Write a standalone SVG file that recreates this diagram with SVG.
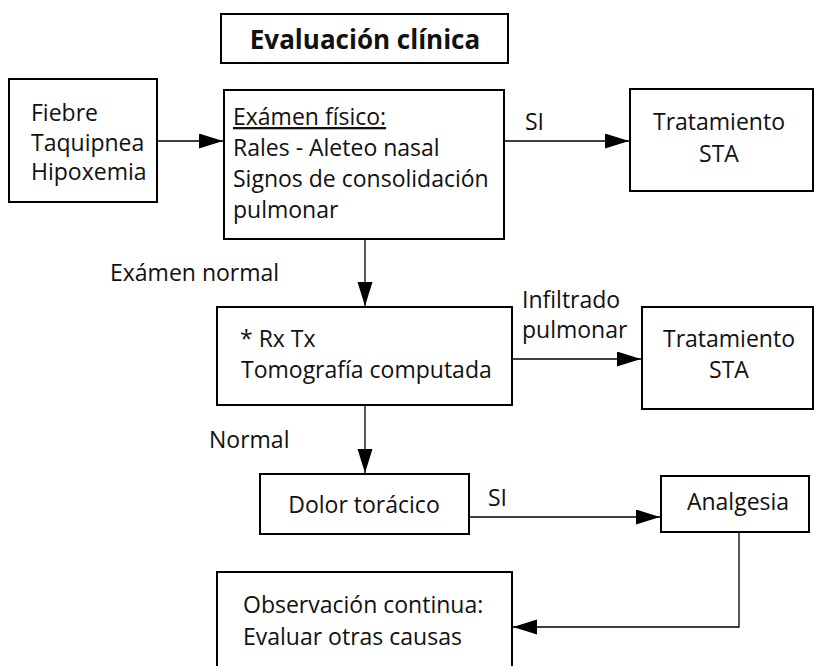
<svg xmlns="http://www.w3.org/2000/svg" width="816" height="666" viewBox="0 0 816 666">
<defs>
<style>
.box{fill:#fff;stroke:#000;stroke-width:2}
.t{font-family:"Open Sans","Noto Sans",sans-serif;font-size:23px;fill:#111}
.c{text-anchor:middle}
.title{font-family:"Open Sans","Noto Sans",sans-serif;font-size:26px;font-weight:bold;fill:#111;text-anchor:middle}
.ln{fill:none;stroke:#000;stroke-width:1.3}
</style>
<marker id="ah" markerUnits="userSpaceOnUse" markerWidth="25" markerHeight="16" refX="24" refY="7.5" orient="auto">
<path d="M0,0 L24,7.5 L0,15 z" fill="#000"/>
</marker>
</defs>
<rect width="816" height="666" fill="#fff"/>
<g id="connectors">
<path class="ln" d="M157,141 H223" marker-end="url(#ah)"/>
<path class="ln" d="M504,141 H629" marker-end="url(#ah)"/>
<path class="ln" d="M365,239 V306" marker-end="url(#ah)"/>
<path class="ln" d="M512,359 H641" marker-end="url(#ah)"/>
<path class="ln" d="M365,405 V473" marker-end="url(#ah)"/>
<path class="ln" d="M469,517 H660" marker-end="url(#ah)"/>
<path class="ln" d="M739,532 V627 H513" marker-end="url(#ah)"/>
<text class="t" x="525" y="130">SI</text>
<text class="t" x="522" y="308">Infiltrado</text>
<text class="t" x="522" y="338">pulmonar</text>
<text class="t" x="110" y="281">Exámen normal</text>
<text class="t" x="209" y="448">Normal</text>
<text class="t" x="488" y="506">SI</text>
</g>
<g id="title">
<rect class="box" x="221" y="14" width="287" height="49"/>
<text class="title" x="365" y="49">Evaluación clínica</text>
</g>
<g id="sintomas">
<rect class="box" x="9" y="79" width="148" height="123"/>
<text class="t" x="31" y="121">Fiebre</text>
<text class="t" x="31" y="151">Taquipnea</text>
<text class="t" x="31" y="180">Hipoxemia</text>
</g>
<g id="examen">
<rect class="box" x="224" y="90" width="280" height="149"/>
<text class="t" x="233" y="125" text-decoration="underline">Exámen físico:</text>
<text class="t" x="233" y="156">Rales - Aleteo nasal</text>
<text class="t" x="233" y="187">Signos de consolidación</text>
<text class="t" x="233" y="218">pulmonar</text>
</g>
<g id="tratamiento1">
<rect class="box" x="630" y="89" width="183" height="102"/>
<text class="t c" x="719" y="130">Tratamiento</text>
<text class="t c" x="719" y="162">STA</text>
</g>
<g id="imagen">
<rect class="box" x="217" y="307" width="295" height="98"/>
<text class="t" x="240" y="347">* Rx Tx</text>
<text class="t" x="241" y="378">Tomografía computada</text>
</g>
<g id="tratamiento2">
<rect class="box" x="642" y="307" width="171" height="102"/>
<text class="t c" x="729" y="347">Tratamiento</text>
<text class="t c" x="729" y="378">STA</text>
</g>
<g id="dolor">
<rect class="box" x="260" y="474" width="209" height="60"/>
<text class="t c" x="364" y="513">Dolor torácico</text>
</g>
<g id="analgesia">
<rect class="box" x="661" y="476" width="148" height="56"/>
<text class="t c" x="738" y="510">Analgesia</text>
</g>
<g id="observacion">
<rect class="box" x="217" y="572" width="295" height="98"/>
<text class="t" x="243" y="613">Observación continua:</text>
<text class="t" x="243" y="645">Evaluar otras causas</text>
</g>
</svg>
